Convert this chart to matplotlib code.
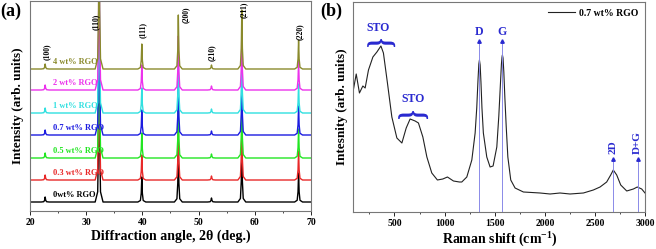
import matplotlib
matplotlib.use('Agg')
import matplotlib.pyplot as plt
from matplotlib.textpath import TextPath
from matplotlib.patches import PathPatch
from matplotlib.font_manager import FontProperties
from matplotlib.transforms import Affine2D
from matplotlib.ticker import MultipleLocator

plt.rcParams['font.family'] = ['Liberation Serif', 'DejaVu Serif']
plt.rcParams['font.weight'] = 'bold'
plt.rcParams['axes.labelweight'] = 'bold'
plt.rcParams['mathtext.fontset'] = 'custom'
plt.rcParams['mathtext.rm'] = 'Liberation Serif:bold'
plt.rcParams['mathtext.default'] = 'rm'

# ---- (a) XRD data ----
xrd_labels = ['0wt% RGO', '0.3 wt% RGO', '0.5 wt% RGO', '0.7 wt% RGO',
              '1 wt% RGO', '2 wt% RGO', '4 wt% RGO']
xrd_offsets = [9, 31, 53, 76, 98, 121, 142]
hkl = ['(100)', '(110)', '(111)', '(200)', '(210)', '(211)', '(220)']
peak_pos = [22.7, 32.3, 39.9, 46.4, 52.3, 57.7, 67.8]
peak_height = [5, 170, 25, 54, 4, 59, 29]

# ---- (b) Raman data (0.7 wt% RGO) ----
raman_shift = [92, 119, 151, 185, 208, 241, 285, 325, 365, 390, 430, 474, 524,
               574, 617, 656, 706, 739, 783, 823, 872, 928, 982, 1028, 1088,
               1147, 1171, 1221, 1271, 1304, 1320, 1333, 1341, 1347, 1354, 1362,
               1372, 1386, 1420, 1453, 1483, 1520, 1540, 1555, 1566, 1572, 1576,
               1582, 1590, 1600, 1614, 1630, 1659, 1702, 1785, 1951, 2051, 2150,
               2250, 2383, 2482, 2549, 2615, 2655, 2681, 2715, 2755, 2815, 2881,
               2920, 2964, 2997]
raman_int = [123, 138, 119, 126, 124, 142, 155, 160, 166, 159, 129, 95, 74,
             69, 84, 93, 91, 89, 75, 55, 39, 32, 33, 35, 31,
             30, 30, 35, 52, 79, 104, 133, 148, 152, 147, 130,
             104, 79, 55, 45, 46, 65, 96, 126, 148, 155, 157,
             154, 140, 115, 85, 55, 32, 24, 20, 19, 18, 19,
             18, 19, 22, 25, 30, 37, 42, 37, 27, 21, 23,
             25, 23, 19]
band_names = ['D', 'G']
band_pos = [1347, 1576]
weak_names = ['2D', 'D+G']
weak_pos = [2681, 2924]

xrd_colors = ['black', '#e82828', '#22e622', '#1c1ce0', '#30e0e0', '#ec32ec', '#8a8a2c']
blue = '#2a2ad0'

fig = plt.figure(figsize=(6.56, 2.49), dpi=100)
ax1 = fig.add_axes([0.0457, 0.1526, 0.4283, 0.8434])
ax2 = fig.add_axes([0.5386, 0.1486, 0.4451, 0.8434])

# XRD stacked patterns, peaks as narrow line profiles
shape_dx = [-0.7, -0.25, -0.1, 0.0, 0.1, 0.25, 0.7]
shape_fr = [0.0, 0.06, 0.35, 1.0, 0.35, 0.06, 0.0]
for lab, off, col in zip(xrd_labels, xrd_offsets, xrd_colors):
    xs = [20.0]
    ys = [off]
    for p, h in zip(peak_pos, peak_height):
        for dx, fr in zip(shape_dx, shape_fr):
            xs.append(p + dx)
            ys.append(off + h * fr)
    xs.append(70.0)
    ys.append(off)
    ax1.plot(xs, ys, color=col, lw=1.0)
    ax1.text(24.1, off + 3, lab, color=col, fontsize=6, fontweight='bold',
             ha='left', va='bottom')

label_xy = [(22.95, 159), (31.7, 189), (40.0, 181), (47.7, 196),
            (52.4, 158), (58.1, 201), (68.1, 179)]
for name, (lx, ly) in zip(hkl, label_xy):
    ax1.text(lx, ly, name, rotation=90, fontsize=5.5, fontweight='bold',
             ha='center', va='center')

ax1.set_xlim(20, 70)
ax1.set_ylim(0, 210)
ax1.set_yticks([])
ax1.xaxis.set_major_locator(MultipleLocator(10))
ax1.xaxis.set_minor_locator(MultipleLocator(5))
ax1.tick_params(axis='x', labelsize=7, length=3, width=0.6, pad=2)
ax1.tick_params(axis='x', which='minor', length=1.5, width=0.5)
ax1.set_xlabel('Diffraction angle, 2\u03b8 (deg.)', fontsize=10,
               fontweight='bold', labelpad=2)
ax1.set_ylabel('Intensity (arb. units)', fontsize=9.5, fontweight='bold', labelpad=4)

# Raman spectrum
ax2.plot(raman_shift, raman_int, color='#222222', lw=0.8, label='0.7 wt% RGO')
for name, x in zip(band_names, band_pos):
    ax2.plot([x, x], [0, 170], color='#8a8ae8', lw=0.7)
    ax2.plot([x], [171], marker='^', ms=2.5, color=blue)
    ax2.text(x, 180, name, color=blue, fontsize=8.5, fontweight='bold',
             ha='center', va='center')
for name, x in zip(weak_names, weak_pos):
    ax2.plot([x, x], [0, 52], color='#8a8ae8', lw=0.7)
    ax2.plot([x], [53], marker='^', ms=2.5, color=blue)
    ax2.text(x, 58, name, color=blue, fontsize=8, fontweight='bold', rotation=90,
             ha='center', va='bottom')


def brace(ax, x0, x1, yc, h):
    tp = TextPath((0, 0), '}', size=10, prop=FontProperties(family='Liberation Serif'))
    ext = tp.get_extents()
    tr = (Affine2D().translate(-ext.x0 - ext.width / 2, -ext.y0 - ext.height / 2)
          .rotate_deg(90).scale((x1 - x0) / ext.height, h / ext.width)
          .translate((x0 + x1) / 2, yc))
    ax.add_patch(PathPatch(tr.transform_path(tp), color=blue, lw=0))


brace(ax2, 228, 507, 169, 8)
ax2.text(337, 184, 'STO', color=blue, fontsize=8.5, fontweight='bold',
         ha='center', va='center')
brace(ax2, 537, 835, 97, 8)
ax2.text(689, 113, 'STO', color=blue, fontsize=8.5, fontweight='bold',
         ha='center', va='center')

ax2.set_xlim(90, 3000)
ax2.set_ylim(0, 210)
ax2.set_yticks([])
ax2.xaxis.set_major_locator(MultipleLocator(500))
ax2.xaxis.set_minor_locator(MultipleLocator(250))
ax2.tick_params(axis='x', labelsize=7, length=3, width=0.6, pad=2)
ax2.tick_params(axis='x', which='minor', length=1.5, width=0.5)
ax2.set_xlabel('Raman shift (cm$^{-1}$)', fontsize=10, fontweight='bold', labelpad=2)
ax2.set_ylabel('Intesnity (arb. units)', fontsize=9.5, fontweight='bold', labelpad=4)
ax2.legend(loc='upper right', frameon=False, prop={'size': 7, 'weight': 'bold'},
           handlelength=2.8, borderaxespad=0.3, handletextpad=0.4)

for ax in (ax1, ax2):
    for s in ax.spines.values():
        s.set_color('#777777')
        s.set_linewidth(0.8)
    for t in ax.get_xticklabels():
        t.set_fontweight('bold')

fig.text(0.0, 0.955, '(a)', fontsize=13, fontweight='bold', ha='left', va='center')
fig.text(0.488, 0.955, '(b)', fontsize=13, fontweight='bold', ha='left', va='center')

fig.savefig('out.png', dpi=100)
